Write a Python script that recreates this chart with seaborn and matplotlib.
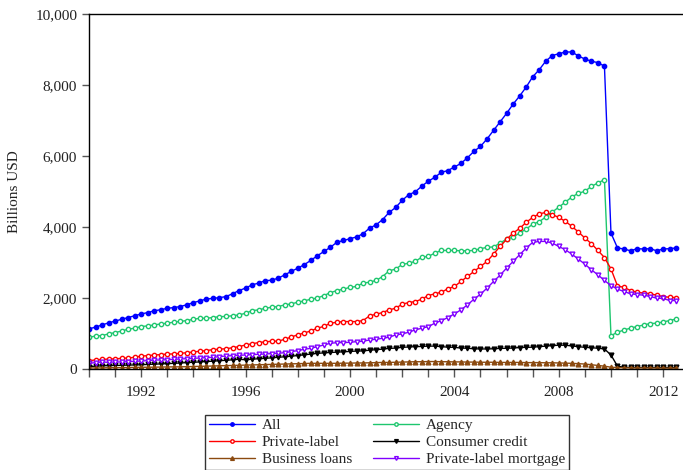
import numpy as np
import pandas as pd
import seaborn as sns
import matplotlib.pyplot as plt
from matplotlib.ticker import MultipleLocator, StrMethodFormatter

sns.set_theme(style="ticks")
plt.rcParams['font.family'] = ['Liberation Serif', 'DejaVu Serif']

# quarterly, 1990Q1 .. 2012Q3
periods = pd.period_range('1990Q1', '2012Q3', freq='Q')
dates = periods.year + (periods.quarter - 1) / 4.0

all_loans = [1130, 1180, 1240, 1300, 1350, 1400, 1450, 1500, 1550, 1590, 1640, 1670,
             1710, 1730, 1760, 1810, 1870, 1920, 1970, 1990, 2010, 2040, 2120, 2210,
             2280, 2370, 2420, 2490, 2500, 2560, 2650, 2750, 2840, 2940, 3060, 3190,
             3310, 3430, 3570, 3620, 3670, 3720, 3810, 3970, 4060, 4210, 4410, 4550,
             4750, 4910, 4990, 5150, 5290, 5400, 5540, 5590, 5690, 5790, 5950, 6130,
             6270, 6480, 6720, 6960, 7200, 7460, 7690, 7940, 8230, 8430, 8670, 8830,
             8880, 8930, 8930, 8820, 8730, 8670, 8630, 8530, 3830, 3410, 3380, 3330,
             3390, 3380, 3390, 3330, 3380, 3390, 3410]
agency = [890, 930, 940, 990, 1025, 1070, 1120, 1150, 1195, 1215, 1240, 1270,
          1290, 1320, 1340, 1365, 1400, 1430, 1430, 1450, 1475, 1480, 1500, 1525,
          1570, 1645, 1665, 1710, 1740, 1760, 1805, 1835, 1880, 1920, 1965, 2000,
          2070, 2150, 2210, 2250, 2300, 2325, 2420, 2445, 2495, 2605, 2765, 2815,
          2945, 2980, 3030, 3150, 3170, 3265, 3340, 3340, 3340, 3330, 3330, 3340,
          3390, 3425, 3440, 3545, 3660, 3715, 3830, 3940, 4080, 4150, 4280, 4420,
          4560, 4700, 4845, 4950, 5005, 5145, 5240, 5335, 940, 1035, 1100, 1150,
          1195, 1240, 1280, 1290, 1325, 1365, 1410]
private_label = [235, 255, 270, 280, 285, 300, 310, 330, 365, 375, 395, 405,
                 420, 425, 440, 460, 480, 500, 520, 545, 560, 570, 600, 630,
                 677, 710, 745, 765, 780, 785, 837, 900, 965, 1015, 1073, 1150,
                 1200, 1289, 1317, 1336, 1336, 1336, 1364, 1496, 1543, 1590, 1665, 1712,
                 1825, 1872, 1900, 1966, 2070, 2117, 2164, 2258, 2324, 2465, 2606, 2747,
                 2888, 3030, 3236, 3453, 3650, 3830, 3960, 4130, 4270, 4370, 4410, 4350,
                 4270, 4160, 4020, 3860, 3690, 3530, 3340, 3140, 2820, 2340, 2300, 2210,
                 2160, 2140, 2120, 2080, 2040, 2020, 2010]
consumer_credit = [70, 80, 90, 95, 100, 105, 110, 115, 120, 130, 135, 145,
                   150, 160, 170, 180, 190, 200, 210, 220, 235, 245, 260, 275,
                   260, 275, 290, 300, 315, 330, 345, 360, 380, 400, 420, 440,
                   455, 465, 475, 485, 495, 505, 510, 530, 545, 560, 580, 590,
                   610, 620, 630, 635, 645, 645, 630, 615, 610, 590, 585, 570,
                   565, 565, 570, 580, 585, 590, 605, 610, 615, 630, 645, 660,
                   670, 670, 650, 630, 610, 600, 585, 565, 395, 80, 50, 45,
                   45, 45, 45, 45, 45, 45, 45]
business_loans = [30, 30, 32, 35, 38, 40, 42, 45, 48, 50, 52, 55,
                  58, 60, 62, 65, 70, 75, 80, 85, 90, 95, 100, 105,
                  110, 115, 120, 125, 130, 135, 140, 145, 150, 155, 160, 160,
                  160, 160, 160, 165, 165, 170, 170, 175, 180, 185, 185, 190,
                  195, 200, 205, 205, 210, 210, 205, 205, 200, 200, 195, 195,
                  190, 190, 190, 185, 185, 185, 185, 180, 180, 180, 175, 175,
                  170, 165, 160, 150, 140, 120, 100, 80, 50, 40, 35, 30,
                  30, 30, 28, 28, 25, 25, 25]
pl_mortgage = [160, 179, 198, 188, 198, 198, 207, 216, 226, 235, 254, 254,
               263, 273, 282, 292, 301, 310, 320, 329, 348, 367, 376, 386,
               395, 405, 414, 423, 433, 442, 461, 489, 518, 555, 583, 630,
               677, 724, 743, 743, 752, 771, 781, 818, 837, 865, 894, 960,
               988, 1035, 1101, 1148, 1195, 1289, 1364, 1449, 1552, 1665, 1806, 1966,
               2107, 2277, 2465, 2643, 2841, 3030, 3218, 3406, 3566, 3594, 3594, 3547,
               3453, 3359, 3236, 3095, 2954, 2794, 2653, 2493, 2352, 2249, 2183, 2117,
               2098, 2079, 2042, 1995, 1986, 1929, 1929]

series = {
    'All': all_loans,
    'Agency': agency,
    'Private-label': private_label,
    'Consumer credit': consumer_credit,
    'Business loans': business_loans,
    'Private-label mortgage': pl_mortgage,
}
df = pd.DataFrame({'date': dates, **series}).melt(id_vars='date', var_name='series', value_name='value')

styles = {
    'All': dict(color='#0000ff', marker='o', mfc='#0000ff', ms=3.1),
    'Agency': dict(color='#1ec66e', marker='o', mfc='white', ms=3.1),
    'Private-label': dict(color='#ff0000', marker='o', mfc='white', ms=3.1),
    'Consumer credit': dict(color='#000000', marker='v', mfc='#000000', ms=3.4),
    'Business loans': dict(color='#8b4a10', marker='^', mfc='#8b4a10', ms=3.4),
    'Private-label mortgage': dict(color='#8000ff', marker='v', mfc='white', ms=3.4),
}

fig = plt.figure(figsize=(6.83, 4.70), dpi=100)
ax = fig.add_axes([89 / 683, 1 - 369 / 470, 594 / 683, 355 / 470])

for name, st in styles.items():
    sub = df[df['series'] == name]
    sns.lineplot(data=sub, x='date', y='value', ax=ax, label=name,
                 color=st['color'], marker=st['marker'], markersize=st['ms'],
                 markerfacecolor=st['mfc'], markeredgecolor=st['color'],
                 markeredgewidth=1.0, linewidth=1.0)

ax.set_xlim(1990, 2012.76)
ax.set_ylim(0, 10000)
ax.xaxis.set_major_locator(MultipleLocator(4))
ax.xaxis.set_minor_locator(MultipleLocator(1))
ax.xaxis.set_major_formatter(StrMethodFormatter('{x:.0f}'))
ax.yaxis.set_major_locator(MultipleLocator(2000))
ax.yaxis.set_major_formatter(StrMethodFormatter('{x:,.0f}'))
ax.tick_params(axis='x', which='both', length=6, width=1, color='#555555',
               labelsize=11, pad=6, labelcolor='#222222')
ax.tick_params(axis='y', length=5, width=1, color='#555555', labelsize=11,
               labelcolor='#222222')
ax.set_xlabel('')
ax.set_ylabel('Billions USD', fontsize=11, color='#222222', labelpad=10)
for s in ['left', 'top', 'bottom']:
    ax.spines[s].set_color('black')
    ax.spines[s].set_linewidth(1.0)
ax.spines['right'].set_visible(False)

handles, labels = ax.get_legend_handles_labels()
order = ['All', 'Private-label', 'Business loans', 'Agency', 'Consumer credit', 'Private-label mortgage']
hmap = dict(zip(labels, handles))
ax.get_legend().remove()
leg = fig.legend([hmap[k] for k in order], order, loc='upper center',
                 bbox_to_anchor=(0.567, 0.134), ncol=2, fontsize=11,
                 frameon=True, fancybox=False, edgecolor='black',
                 handlelength=3.0, handletextpad=0.45, columnspacing=1.4,
                 labelspacing=0.22, borderpad=0.25, markerscale=0.8)
leg.get_frame().set_linewidth(1.0)

fig.savefig('out.png', dpi=100)
